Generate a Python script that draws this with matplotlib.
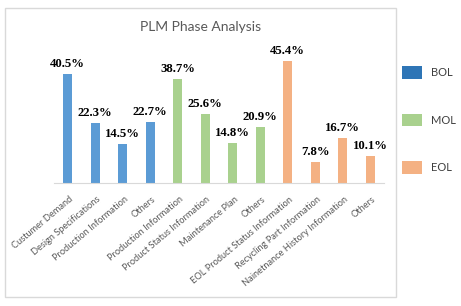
import matplotlib
matplotlib.use("Agg")
import matplotlib.pyplot as plt
import matplotlib.transforms as mtransforms
from matplotlib.patches import Patch, Rectangle

categories = ["Custumer Demand", "Design Specifications", "Production Information", "Others",
              "Production Information", "Product Status Information", "Maintenance Plan", "Others",
              "EOL Product Status Information", "Recycling Part Information",
              "Nainetnance History Information", "Others"]
values = [40.5, 22.3, 14.5, 22.7, 38.7, 25.6, 14.8, 20.9, 45.4, 7.8, 16.7, 10.1]
phases = ["BOL", "BOL", "BOL", "BOL", "MOL", "MOL", "MOL", "MOL", "EOL", "EOL", "EOL", "EOL"]
phase_names = ["BOL", "MOL", "EOL"]
bar_colors = {"BOL": "#5B9BD5", "MOL": "#A9D18E", "EOL": "#F4B183"}
legend_colors = {"BOL": "#2E75B6", "MOL": "#A9D18E", "EOL": "#F4B183"}
title = "PLM Phase Analysis"

W, H = 461, 306
fig = plt.figure(figsize=(W / 100, H / 100), dpi=100)
fig.patches.append(Rectangle((5 / W, 9 / H), 391 / W, 289 / H, transform=fig.transFigure,
                             fill=False, edgecolor="#D9D9D9", linewidth=1))

ax = fig.add_axes([54 / W, (H - 183) / H, 330 / W, 134.5 / H])
x = list(range(len(values)))
ax.bar(x, values, width=0.33, color=[bar_colors[p] for p in phases])
ax.set_xlim(-0.5, len(values) - 0.5)
ax.set_ylim(0, 50)
for xi, v in zip(x, values):
    ax.text(xi, v + 1.5, f"{v}%", ha="center", va="bottom", fontsize=9.2,
            fontweight="bold", family="Liberation Serif", color="black")

for s in ["left", "right", "top"]:
    ax.spines[s].set_visible(False)
ax.spines["bottom"].set_color("#D9D9D9")
ax.set_yticks([])
ax.set_xticks(x)
ax.set_xticklabels(categories, rotation=40, ha="right", va="center",
                   rotation_mode="anchor", fontsize=6.7, color="#595959", family="Lato")
ax.tick_params(axis="x", length=0, pad=11)
offset = mtransforms.ScaledTranslation(4 / 100, 0, fig.dpi_scale_trans)
for lbl in ax.get_xticklabels():
    lbl.set_transform(lbl.get_transform() + offset)

fig.text(201 / W, 1 - 27 / H, title, ha="center", va="center", fontsize=10,
         color="#595959", family="Lato")

handles = [Patch(facecolor=legend_colors[p], edgecolor="none") for p in phase_names]
fig.legend(handles, phase_names, loc="upper left", bbox_to_anchor=(398 / W, 1 - 62 / H),
           frameon=False, labelcolor="#404040", handlelength=1.8,
           handleheight=1.35, labelspacing=3.15, handletextpad=0.8, borderaxespad=0,
           prop={"family": "Lato", "size": 8})

fig.savefig("out.png", dpi=100)
